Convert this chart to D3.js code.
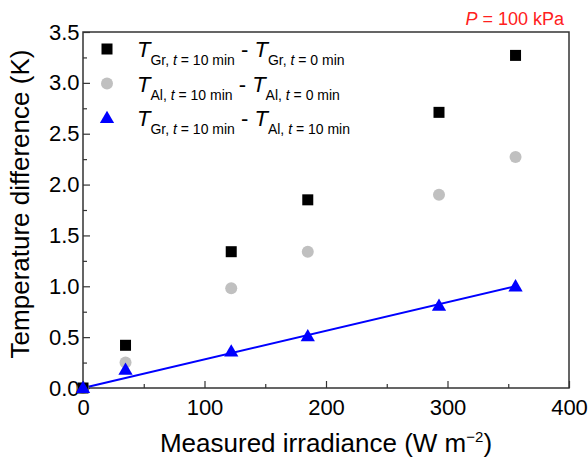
<!DOCTYPE html>
<html><head><meta charset="utf-8">
<script src="https://cdn.jsdelivr.net/npm/d3@7"></script>
<style>body{margin:0;background:#fff}svg{display:block}text{font-family:"Liberation Sans",Arial,sans-serif}</style>
</head><body>
<svg id="c" width="588" height="457"></svg>
<script>
const irradiance = [0, 35, 122, 185, 293, 356];
const grDiff = [0, 0.42, 1.34, 1.85, 2.71, 3.27];
const alDiff = [0, 0.25, 0.98, 1.34, 1.90, 2.27];
const grAlDiff = [0, 0.18, 0.36, 0.51, 0.81, 1.00];
const fitX = [0, 356];
const fitSlope = 1.0 / 356;
const xTicks = [0, 100, 200, 300, 400];
const yTicks = [0, 0.5, 1.0, 1.5, 2.0, 2.5, 3.0, 3.5];

const svg = d3.select("#c");
const L = 83, R = 569, T = 32, B = 388;
const x = d3.scaleLinear().domain([0, 400]).range([L, R]);
const y = d3.scaleLinear().domain([0, 3.5]).range([B, T]);

// frame
svg.append("rect").attr("x", L).attr("y", T).attr("width", R - L).attr("height", B - T)
  .attr("fill", "none").attr("stroke", "#333").attr("stroke-width", 1.5);

// axes (ticks inward)
const xAx = svg.append("g").attr("transform", `translate(0,${B})`)
  .call(d3.axisBottom(x).tickValues(xTicks).tickSize(-7).tickPadding(8).tickFormat(d3.format("d")));
const xMinor = svg.append("g").attr("transform", `translate(0,${B})`)
  .call(d3.axisBottom(x).tickValues(d3.range(50, 400, 100)).tickSize(-4).tickFormat(""));
const yAx = svg.append("g").attr("transform", `translate(${L},0)`)
  .call(d3.axisLeft(y).tickValues(yTicks).tickSize(-7).tickPadding(10).tickFormat(d3.format(".1f")));
const yMinor = svg.append("g").attr("transform", `translate(${L},0)`)
  .call(d3.axisLeft(y).tickValues(d3.range(0.25, 3.5, 0.5)).tickSize(-4).tickFormat(""));
[xAx, xMinor, yAx, yMinor].forEach(g => {
  g.select(".domain").remove();
  g.selectAll("line").attr("stroke", "#333").attr("stroke-width", 1.2);
  g.selectAll("text").attr("font-size", 22).attr("fill", "#000").attr("font-family", '"Liberation Sans",Arial,sans-serif');
});
xAx.selectAll("text").attr("dy", "0.85em");
yAx.selectAll("text").attr("dx", "0.3em");

// axis titles
svg.append("text").attr("x", (L + R) / 2).attr("y", 452).attr("text-anchor", "middle")
  .attr("font-size", 26).html('Measured irradiance (W m<tspan dy="-10" font-size="15">\u22122</tspan><tspan dy="10">)</tspan>');
svg.append("text").attr("transform", `translate(29,${(T + B) / 2 - 6}) rotate(-90)`)
  .attr("text-anchor", "middle").attr("font-size", 26).text("Temperature difference (K)");

// fit line
svg.append("line").attr("x1", x(fitX[0])).attr("y1", y(fitX[0] * fitSlope))
  .attr("x2", x(fitX[1])).attr("y2", y(fitX[1] * fitSlope))
  .attr("stroke", "#0000ff").attr("stroke-width", 2);

const pts = (vals) => irradiance.map((v, i) => [v, vals[i]]);
// circles
svg.append("g").selectAll("circle").data(pts(alDiff)).join("circle")
  .attr("cx", d => x(d[0])).attr("cy", d => y(d[1])).attr("r", 6).attr("fill", "#c0c0c0");
// squares
svg.append("g").selectAll("rect").data(pts(grDiff)).join("rect")
  .attr("x", d => x(d[0]) - 5.5).attr("y", d => y(d[1]) - 5.5).attr("width", 11).attr("height", 11).attr("fill", "#000");
// triangles
const tri = d3.symbol().type(d3.symbolTriangle).size(88);
svg.append("g").selectAll("path").data(pts(grAlDiff)).join("path")
  .attr("d", tri).attr("transform", d => `translate(${x(d[0])},${y(d[1]) + 1})`).attr("fill", "#0000ff");

// legend
const legend = [
  {a: "Gr", b: "10 min", c: "Gr", d: "0 min", m: "sq"},
  {a: "Al", b: "10 min", c: "Al", d: "0 min", m: "ci"},
  {a: "Gr", b: "10 min", c: "Al", d: "10 min", m: "tr"}
];
legend.forEach((e, i) => {
  const cy = 49 + i * 34.5;
  if (e.m === "sq") svg.append("rect").attr("x", 101.5).attr("y", cy - 5.5).attr("width", 11).attr("height", 11).attr("fill", "#000");
  if (e.m === "ci") svg.append("circle").attr("cx", 107).attr("cy", cy).attr("r", 6).attr("fill", "#c0c0c0");
  if (e.m === "tr") svg.append("path").attr("d", tri).attr("transform", `translate(107,${cy + 1})`).attr("fill", "#0000ff");
  const t = svg.append("text").attr("x", 137).attr("y", cy + 8).attr("font-size", 22);
  t.append("tspan").attr("font-style", "italic").text("T");
  t.append("tspan").attr("font-size", 14).attr("dy", 8).text(e.a + ", ");
  t.append("tspan").attr("font-size", 14).attr("font-style", "italic").text("t");
  t.append("tspan").attr("font-size", 14).text(" = " + e.b);
  t.append("tspan").attr("dy", -8).text(" - ");
  t.append("tspan").attr("font-style", "italic").text("T");
  t.append("tspan").attr("font-size", 14).attr("dy", 8).text(e.c + ", ");
  t.append("tspan").attr("font-size", 14).attr("font-style", "italic").text("t");
  t.append("tspan").attr("font-size", 14).text(" = " + e.d);
});

// pressure annotation
svg.append("text").attr("x", 564).attr("y", 25).attr("text-anchor", "end").attr("font-size", 18).attr("fill", "#ff2020")
  .html('<tspan font-style="italic">P</tspan> = 100 kPa');
</script>
</body></html>
